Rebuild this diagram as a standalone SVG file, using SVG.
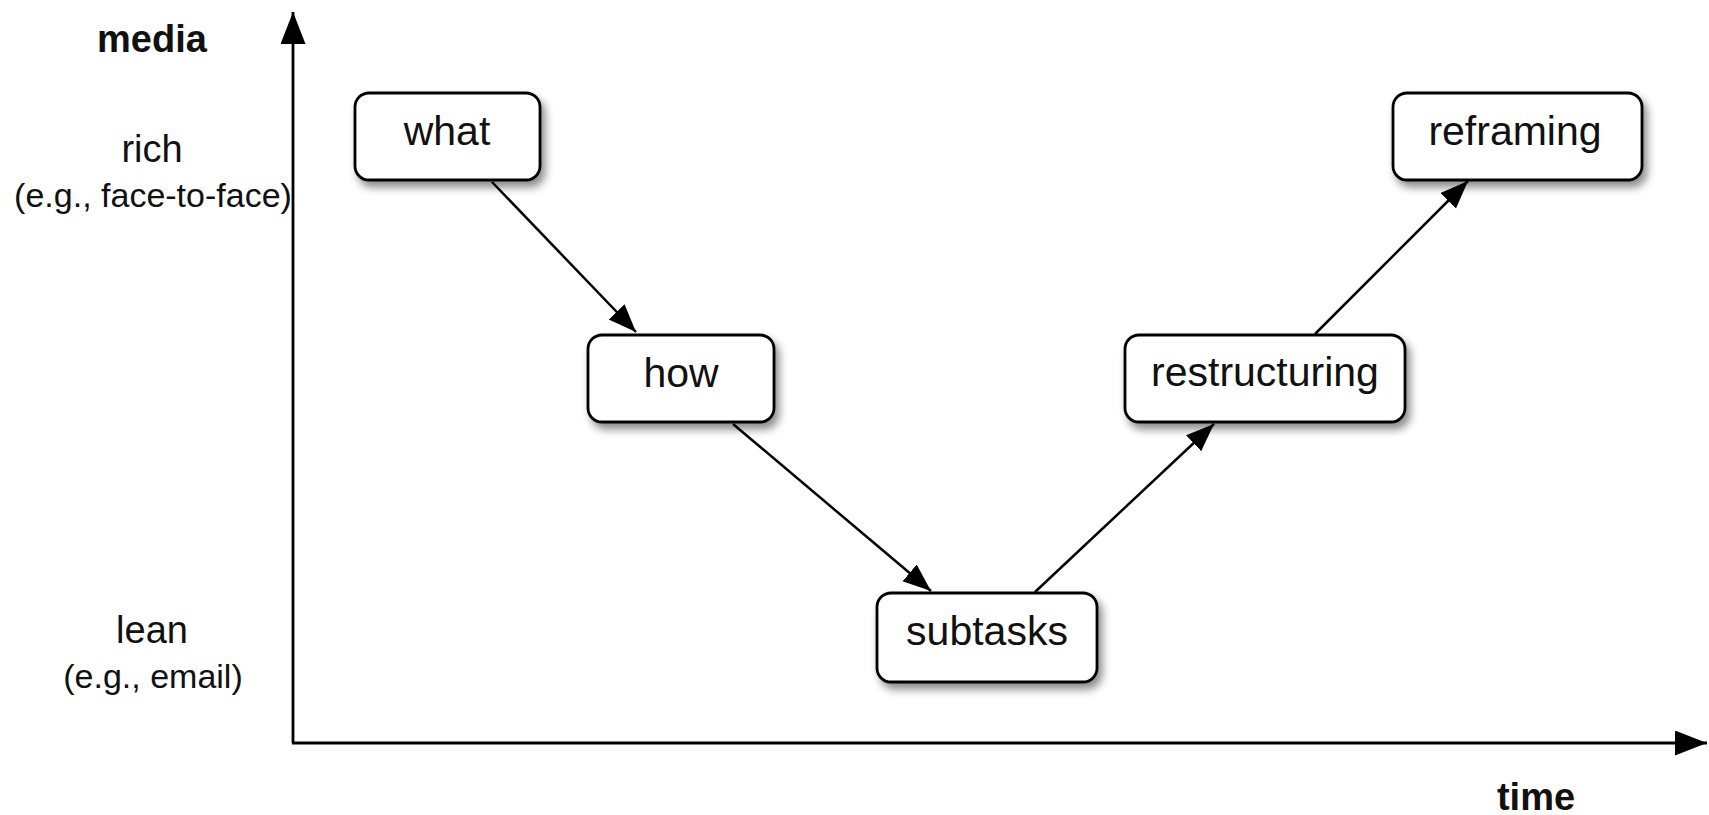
<svg xmlns="http://www.w3.org/2000/svg" width="1709" height="815" viewBox="0 0 1709 815">
<defs>
<style>
.box{fill:#fff;stroke:#000;stroke-width:2.8;filter:url(#sh)}
.nt{font-family:"Liberation Sans",Arial,sans-serif;font-size:41px;fill:#111;text-anchor:middle}
.lbl{font-family:"Liberation Sans",Arial,sans-serif;fill:#111;text-anchor:middle}
.bold{font-weight:bold;font-size:38px}
.big{font-size:38px}
.small{font-size:34px}
.edge{stroke:#000;stroke-width:2.5;fill:none;marker-end:url(#ah)}
.axis{stroke:#000;stroke-width:2.8;fill:none;marker-end:url(#ax)}
</style>
<filter id="sh" x="-20%" y="-30%" width="150%" height="170%">
<feDropShadow dx="4" dy="6" stdDeviation="4" flood-color="#000" flood-opacity="0.45"/>
</filter>
<marker id="ah" markerUnits="userSpaceOnUse" markerWidth="30" markerHeight="24" refX="28" refY="11" orient="auto">
<path d="M0,0 L28,11 L0,22 Z" fill="#000"/>
</marker>
<marker id="ax" markerUnits="userSpaceOnUse" markerWidth="34" markerHeight="27" refX="32" refY="12.5" orient="auto">
<path d="M0,0 L32,12.5 L0,25 Z" fill="#000"/>
</marker>
</defs>
<rect width="1709" height="815" fill="#fff"/>
<g id="axes">
<line class="axis" x1="293" y1="743" x2="293" y2="12"/>
<line class="axis" x1="292" y1="743" x2="1707" y2="743"/>
</g>
<g id="labels">
<text class="lbl bold" x="152" y="52">media</text>
<text class="lbl big" x="152" y="162">rich</text>
<text class="lbl small" x="153" y="207">(e.g., face-to-face)</text>
<text class="lbl big" x="152" y="643">lean</text>
<text class="lbl small" x="153" y="688">(e.g., email)</text>
<text class="lbl bold" x="1536" y="810">time</text>
</g>
<g id="connectors">
<line class="edge" x1="492" y1="182" x2="636" y2="332"/>
<line class="edge" x1="733" y1="424" x2="931" y2="591"/>
<line class="edge" x1="1035" y1="592" x2="1214" y2="424"/>
<line class="edge" x1="1315" y1="334" x2="1468" y2="181"/>
</g>
<g id="what">
<rect class="box" x="355" y="93" width="185" height="87" rx="14"/>
<text class="nt" x="447" y="145">what</text>
</g>
<g id="how">
<rect class="box" x="588" y="335" width="186" height="87" rx="14"/>
<text class="nt" x="681" y="387">how</text>
</g>
<g id="subtasks">
<rect class="box" x="877" y="593" width="220" height="89" rx="14"/>
<text class="nt" x="987" y="645">subtasks</text>
</g>
<g id="restructuring">
<rect class="box" x="1125" y="335" width="280" height="87" rx="14"/>
<text class="nt" x="1265" y="386">restructuring</text>
</g>
<g id="reframing">
<rect class="box" x="1393" y="93" width="249" height="87" rx="14"/>
<text class="nt" x="1515" y="145">reframing</text>
</g>
</svg>
